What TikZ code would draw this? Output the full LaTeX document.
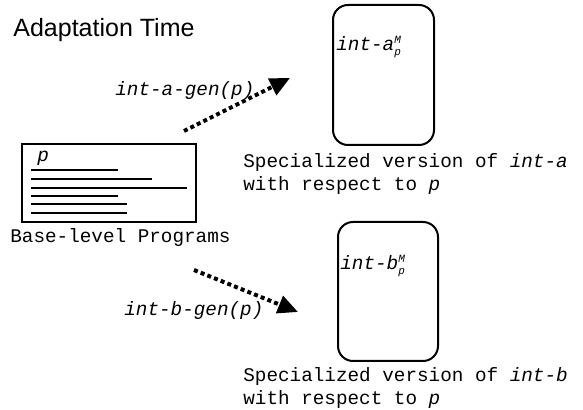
\documentclass[tikz,border=0pt]{standalone}
\usepackage{fontspec}
\setmainfont{Liberation Sans}
\setmonofont{Liberation Mono}
\usetikzlibrary{arrows.meta}

\newcommand{\scriptmono}[1]{\mbox{\fontsize{5.5}{6}\selectfont\ttfamily\itshape #1}}
\newcommand{\specname}[1]{#1$^{\scriptmono{M}}_{\scriptmono{p}}$}

\begin{document}
\begin{tikzpicture}[x=0.5pt,y=0.5pt]
\tikzstyle{every node}+=[inner sep=0pt]
\tikzstyle{mono}=[font=\fontsize{9.65}{11.5}\selectfont\ttfamily]
\tikzstyle{monoit}=[font=\fontsize{9.65}{11.5}\selectfont\ttfamily\itshape]
\tikzstyle{specbox}=[draw, line width=1pt, rounded corners=7.5pt]
\tikzstyle{genarrow}=[line width=2pt, dash pattern=on 2pt off 1.6pt, -{Triangle[length=10pt,width=9pt]}]
\useasboundingbox (0,0) rectangle (583,-410);
\node [anchor=base west, font=\fontsize{12.5}{15}\selectfont] (title) at (13,-37) {Adaptation Time};
\node [draw, line width=1pt, minimum width=87pt, minimum height=39pt] (prog) at (109,-183) {};
\node [monoit, anchor=base west] (progp) at (37,-162) {p};
\foreach \y/\e in {170/118, 179/152, 188/187, 196/118, 204/127, 213/127}
  \draw [line width=1.1pt] (31,-\y) -- (\e,-\y);
\node [mono, anchor=base west] (proglbl) at (10,-243) {Base-level Programs};
\node [specbox, minimum width=50.5pt, minimum height=70pt] (inta) at (383.5,-75) {};
\node [monoit, anchor=base west] (intalbl) at (336,-51) {\specname{int-a}};
\node [mono, anchor=base west, align=left] (intadesc) at (243,-191) {Specialized version of \textit{int-a}\\with respect to \textit{p}};
\node [specbox, minimum width=50pt, minimum height=69.5pt] (intb) at (388,-291.5) {};
\node [monoit, anchor=base west] (intblbl) at (340,-270) {\specname{int-b}};
\node [mono, anchor=base west, align=left] (intbdesc) at (243,-405) {Specialized version of \textit{int-b}\\with respect to \textit{p}};
\coordinate (ga0) at (184,-131);
\coordinate (ga1) at (290,-78);
\coordinate (gb0) at (194,-270);
\coordinate (gb1) at (298,-312);
\draw [genarrow] (ga0) -- (ga1);
\node [monoit, anchor=base west] (agen) at (115,-96) {int-a-gen(p)};
\draw [genarrow] (gb0) -- (gb1);
\node [monoit, anchor=base west] (bgen) at (124,-316) {int-b-gen(p)};
\end{tikzpicture}
\end{document}
